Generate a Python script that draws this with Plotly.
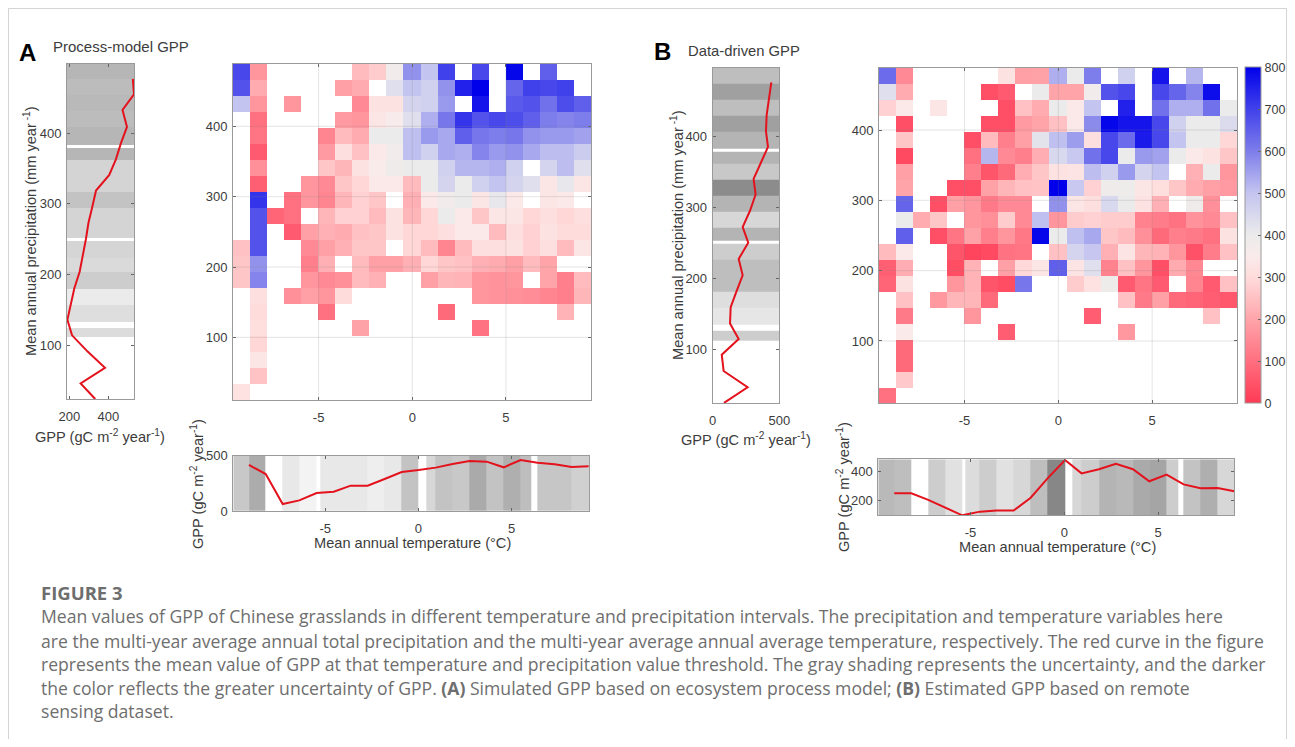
import plotly.graph_objects as go

N = None
OFF = 8            # page margin around the plot
W, H = 1279, 731   # size of the plot area inside the page


def fx(px):
    return (px - OFF) / W


def fy(py):
    return 1 - (py - OFF) / H


# ---------- Panel A heat map (top row first, columns left to right) ----------
gpp_a = [
 [690,170,N,N,N,N,N,240,270,380,570,500,700,N,690,N,790,N,650,N,N],
 [670,210,N,N,N,N,190,210,N,430,500,470,570,750,800,N,640,700,690,700,N],
 [500,170,N,170,N,N,N,150,320,320,460,470,560,N,770,N,660,670,620,680,650],
 [N,100,N,N,N,N,180,170,330,360,430,530,610,720,670,690,680,650,600,590,600],
 [N,110,N,N,N,140,240,210,400,400,505,560,540,650,610,600,610,570,560,560,550],
 [N,60,N,N,N,180,310,250,340,380,505,470,540,530,590,560,570,540,510,510,480],
 [N,160,N,N,N,260,230,320,350,385,400,400,470,520,520,530,470,N,460,510,430],
 [N,70,N,N,170,150,260,290,340,340,240,400,460,400,470,500,460,430,330,410,330],
 [N,720,N,100,170,140,230,280,260,N,220,340,380,400,330,410,340,N,330,340,N],
 [N,670,80,100,N,230,280,280,240,320,230,290,400,340,260,330,330,290,310,290,310],
 [N,670,N,60,190,220,210,250,260,320,290,290,310,340,340,240,310,280,320,300,300],
 [250,670,N,N,150,190,220,260,260,N,290,240,140,240,310,310,320,280,310,240,330],
 [260,570,N,N,130,220,N,240,190,190,220,290,260,250,220,210,190,240,200,N,N],
 [260,590,N,N,170,150,160,240,220,N,N,190,230,225,170,165,170,N,200,130,240],
 [N,310,N,160,190,170,300,N,N,N,N,N,N,N,170,165,160,155,140,130,230],
 [N,300,N,N,N,100,N,N,N,N,N,N,90,N,N,N,N,N,N,225,N],
 [N,305,N,N,N,N,N,195,N,N,N,N,N,N,105,N,N,N,N,N,N],
 [N,290,N,N,N,N,N,N,N,N,N,N,N,N,N,N,N,N,N,N,N],
 [N,330,N,N,N,N,N,N,N,N,N,N,N,N,N,N,N,N,N,N,N],
 [N,255,N,N,N,N,N,N,N,N,N,N,N,N,N,N,N,N,N,N,N],
 [315,N,N,N,N,N,N,N,N,N,N,N,N,N,N,N,N,N,N,N,N],
]

# ---------- Panel B heat map ----------
gpp_b = [
 [630,150,N,N,N,N,N,320,190,195,530,400,600,N,470,N,770,N,520,N,N],
 [430,210,N,N,N,N,40,60,N,400,200,200,380,670,690,N,690,640,590,780,N],
 [280,340,N,330,N,N,N,40,250,210,400,340,500,N,750,N,620,530,530,620,400],
 [N,40,N,N,N,N,40,40,180,200,250,340,580,790,770,770,690,470,400,400,440],
 [N,260,N,N,N,40,240,130,190,420,505,555,310,690,630,760,690,500,400,400,290],
 [N,30,N,N,N,100,520,150,130,215,450,490,620,690,400,560,550,400,340,320,260],
 [N,190,N,N,N,130,50,90,215,260,320,325,510,470,560,460,500,N,220,400,170],
 [N,200,N,N,40,40,195,230,250,255,800,490,280,385,390,330,305,260,210,190,180],
 [N,640,N,40,190,170,120,150,150,N,570,330,310,450,400,320,220,N,385,160,N],
 [N,400,210,260,N,170,160,270,150,505,170,270,280,270,270,135,125,105,165,150,250],
 [N,650,N,40,110,195,130,170,115,790,400,505,540,260,240,160,90,130,120,100,320],
 [240,340,N,N,50,20,30,105,110,N,250,460,495,220,325,230,225,170,45,125,250],
 [70,215,N,N,35,225,N,190,295,330,650,325,430,135,250,170,40,210,145,N,N],
 [80,320,N,N,170,225,50,35,610,N,N,270,315,390,60,110,60,N,140,60,250],
 [N,250,N,175,230,230,90,N,N,N,N,N,N,N,250,120,190,90,80,65,55],
 [N,120,N,N,N,170,N,N,N,N,N,N,65,N,N,N,N,N,N,250,N],
 [N,345,N,N,N,N,N,65,N,N,N,N,N,N,175,N,N,N,N,N,N],
 [N,90,N,N,N,N,N,N,N,N,N,N,N,N,N,N,N,N,N,N,N],
 [N,90,N,N,N,N,N,N,N,N,N,N,N,N,N,N,N,N,N,N,N],
 [N,265,N,N,N,N,N,N,N,N,N,N,N,N,N,N,N,N,N,N,N],
 [100,N,N,N,N,N,N,N,N,N,N,N,N,N,N,N,N,N,N,N,N],
]

# ---------- Marginal curves ----------
precip_curve_a = [477,455,433,409,386,363,341,319,296,273,250,225,204,181,157,136,114,91,68,46,24]
gpp_by_precip_a = [526,532,473,496,465,439,405,337,318,298,285,268,253,226,207,190,214,294,383,258,333]
precip_curve_b = [476,453,430,407,385,362,340,318,295,272,250,227,204,182,159,136,114,92,69,46,24]
gpp_by_precip_b = [440,422,405,400,415,360,307,322,280,225,267,195,225,180,135,130,195,68,82,262,85]

temp_curve_a = [-9.09,-8.19,-7.28,-6.39,-5.46,-4.54,-3.63,-2.72,-1.81,-0.89,0.02,0.93,1.84,2.75,3.67,4.58,5.49,6.40,7.32,8.23,9.14]
gpp_by_temp_a = [416,334,63,96,163,175,229,229,289,352,370,392,425,452,446,395,461,437,422,398,404]
temp_curve_b = [-9.06,-8.15,-7.25,-6.34,-5.44,-4.49,-3.61,-2.70,-1.79,-0.89,0.04,0.92,1.85,2.75,3.66,4.53,5.45,6.36,7.26,8.17,9.06]
gpp_by_temp_b = [250,250,205,155,100,125,132,132,220,352,477,386,414,452,414,332,377,311,284,286,264]

# ---------- Uncertainty shading: band edges and gray level of each band (None = no data) ----------
p_edges_a = [498,476.4,453.8,431,409,383.5,379.7,361.8,339,316.5,294,271,251.4,248,223,203,180,157,133.5,125,112]
p_gray_a = [182,188,185,188,182,N,182,212,212,195,212,212,N,213,218,205,235,222,N,220]
p_edges_b = [496.8,474.7,452.2,429,406.6,383,378.4,362,339,316,293,270.8,253,248,225.7,203,180.5,158,134,126,112]
p_gray_b = [190,160,190,160,180,N,180,200,140,180,215,180,N,205,190,190,222,230,N,205]
t_edges_a = [-9.93,-9.09,-8.21,-7.28,-6.39,-5.46,-5.28,-4.54,-3.63,-2.72,-1.81,-0.89,0.02,0.41,0.93,1.84,2.75,3.67,4.58,5.49,6.08,6.40,7.32,8.23,9.16]
t_gray_a = [200,172,N,232,243,N,232,232,232,238,232,195,N,215,195,200,170,195,175,190,N,198,198,208]
t_edges_b = [-9.91,-9.06,-8.15,-7.25,-6.34,-5.44,-5.26,-4.51,-3.61,-2.70,-1.79,-0.89,0.04,0.43,0.92,1.85,2.75,3.66,4.57,5.45,6.07,6.36,7.26,8.17,9.06]
t_gray_b = [185,190,N,205,225,N,220,205,225,215,190,135,N,215,205,180,185,170,165,205,N,195,175,215]

# ---------- Tick labels and texts ----------
temp_ticks = [-5, 0, 5]
temp_tick_labels = ["-5", "0", "5"]
precip_ticks = [100, 200, 300, 400]
cbar_ticks = [0, 100, 200, 300, 400, 500, 600, 700, 800]
caption_lines = [
 "Mean values of GPP of Chinese grasslands in different temperature and precipitation intervals. The precipitation and temperature variables here",
 "are the multi-year average annual total precipitation and the multi-year average annual average temperature, respectively. The red curve in the figure",
 "represents the mean value of GPP at that temperature and precipitation value threshold. The gray shading represents the uncertainty, and the darker",
 "the color reflects the greater uncertainty of GPP. <b>(A)</b> Simulated GPP based on ecosystem process model; <b>(B)</b> Estimated GPP based on remote",
 "sensing dataset.",
]

# ---------- Style ----------
FRAME = "#9a9a9a"
TXT = "#3c3c3c"
FONT = "Liberation Sans"
RED = "#e3121c"
DIVERGING = [[0, "#ff3a55"], [0.25, "#ffa5aa"], [0.375, "#ffdcdc"], [0.4375, "#faebeb"], [0.5, "#ebebeb"],
             [0.625, "#c4c4f0"], [0.75, "#7d7deb"], [0.875, "#4141eb"], [1, "#0000eb"]]
GRAYS = [[0, "#000000"], [1, "#ffffff"]]

fig = go.Figure()
layout = {"shapes": []}


def add_axes(i, box, xr, yr, xticks, yticks):
    x0, y0, x1, y1 = box
    suffix = "" if i == 1 else str(i)
    common = dict(showline=True, linecolor=FRAME, linewidth=1, mirror="ticks", ticks="inside", ticklen=3,
                  tickcolor="#666666", tickfont=dict(family=FONT, size=13, color=TXT), showgrid=False,
                  zeroline=False, tickmode="array")
    xlabels = temp_tick_labels if xticks == temp_ticks else [str(v) for v in xticks]
    layout["xaxis" + suffix] = dict(common, domain=[fx(x0), fx(x1)], range=xr, tickvals=xticks, ticktext=xlabels,
                                    anchor="y" + suffix, ticklabelstandoff=5)
    layout["yaxis" + suffix] = dict(common, domain=[fy(y1), fy(y0)], range=yr, tickvals=yticks,
                                    anchor="x" + suffix, ticklabelstandoff=2)
    return "x" + suffix, "y" + suffix


def main_heat(i, box, xr, yr, data, show_scale):
    xa, ya = add_axes(i, box, xr, yr, temp_ticks, precip_ticks)
    dx = (xr[1] - xr[0]) / 21
    dy = (yr[1] - yr[0]) / 21
    fig.add_trace(go.Heatmap(
        z=data[::-1], x0=xr[0] + dx / 2, dx=dx, y0=yr[0] + dy / 2, dy=dy, xaxis=xa, yaxis=ya,
        zmin=0, zmax=800, colorscale=DIVERGING, showscale=show_scale, hoverongaps=False,
        colorbar=dict(x=fx(1244.5), xanchor="left", xpad=0, ypad=0, y=fy(403.3), yanchor="bottom",
                      len=335.6 / H, lenmode="fraction", thickness=15.5, thicknessmode="pixels",
                      tickvals=cbar_ticks, ticks="inside", ticklen=3, tickcolor="#666666",
                      tickfont=dict(family=FONT, size=12.5, color=TXT), outlinecolor=FRAME, outlinewidth=1)))
    for v in temp_ticks:
        layout["shapes"].append(dict(type="line", xref=xa, yref=ya + " domain",
                                     x0=v, x1=v, y0=0, y1=1, line=dict(color="rgba(130,130,130,0.22)", width=1),
                                     layer="above"))
    for v in precip_ticks:
        layout["shapes"].append(dict(type="line", yref=ya, xref=xa + " domain",
                                     y0=v, y1=v, x0=0, x1=1, line=dict(color="rgba(130,130,130,0.22)", width=1),
                                     layer="above"))


def side_panel(i, box, xr, yr, xticks, edges, gray, gpp, precip):
    xa, ya = add_axes(i, box, xr, yr, xticks, precip_ticks)
    fig.add_trace(go.Heatmap(z=[[g] for g in gray], x=xr, y=edges, xaxis=xa, yaxis=ya, zmin=0, zmax=255,
                             colorscale=GRAYS, showscale=False, hoverongaps=False))
    fig.add_trace(go.Scatter(x=gpp, y=precip, mode="lines", line=dict(color=RED, width=2), xaxis=xa, yaxis=ya,
                             showlegend=False, cliponaxis=False))


def bottom_panel(i, box, xr, yr, yticks, edges, gray, temps, gpp):
    xa, ya = add_axes(i, box, xr, yr, temp_ticks, yticks)
    fig.add_trace(go.Heatmap(z=[gray], x=edges, y=yr, xaxis=xa, yaxis=ya, zmin=0, zmax=255,
                             colorscale=GRAYS, showscale=False, hoverongaps=False))
    fig.add_trace(go.Scatter(x=temps, y=gpp, mode="lines", line=dict(color=RED, width=2), xaxis=xa, yaxis=ya,
                             showlegend=False, cliponaxis=False))


main_heat(1, (233, 64, 591, 400), [-9.57, 9.54], [11, 488.6], gpp_a, False)
main_heat(2, (879, 67.7, 1237, 403.3), [-9.56, 9.525], [11.4, 488.6], gpp_b, True)
side_panel(3, (67, 64, 134, 399.3), [188, 532], [23.5, 498], [200, 400], p_edges_a, p_gray_a, gpp_by_precip_a, precip_curve_a)
side_panel(4, (712.7, 67.7, 779.3, 403.3), [0, 500], [23.4, 496.8], [0, 500], p_edges_b, p_gray_b, gpp_by_precip_b, precip_curve_b)
bottom_panel(5, (233.3, 455.7, 589, 511), [-9.93, 9.16], [0, 500], [0, 500], t_edges_a, t_gray_a, temp_curve_a, gpp_by_temp_a)
bottom_panel(6, (878.3, 459.3, 1234.3, 515), [-9.91, 9.06], [102, 482], [200, 400], t_edges_b, t_gray_b, temp_curve_b, gpp_by_temp_b)


def note(text, x, y, size=14.6, color=TXT, family=FONT, rot=0, xanchor="center"):
    return dict(text=text, x=fx(x), y=fy(y), xref="paper", yref="paper", showarrow=False, textangle=rot,
                xanchor=xanchor, yanchor="middle", font=dict(family=family, size=size, color=color))


GPP_UNITS = "GPP (gC m<sup>-2</sup> year<sup>-1</sup>)"
PRECIP = "Mean annual precipitation (mm year<sup> -1</sup>)"
TEMP = "Mean annual temperature (°C)"
CAP = "#6e6e6e"
anns = [
    note("<b>A</b>", 17, 52, 24, "#000000", xanchor="left"),
    note("<b>B</b>", 652, 51, 24, "#000000", xanchor="left"),
    note("Process-model GPP", 51, 47, 15, xanchor="left"),
    note("Data-driven GPP", 686, 51, 14.8, xanchor="left"),
    note(PRECIP, 30, 231, rot=-90),
    note(PRECIP, 677, 235, rot=-90),
    note(GPP_UNITS, 100, 436),
    note(GPP_UNITS, 746, 439),
    note(GPP_UNITS, 197, 484, rot=-90),
    note(GPP_UNITS, 843, 487, rot=-90),
    note(TEMP, 412, 543),
    note(TEMP, 1057, 547),
    note("<b>FIGURE 3</b>", 39, 592, 18.5, CAP, "Open Sans", xanchor="left"),
]
for y, line in zip([616, 640.5, 664, 687.5, 711], caption_lines):
    anns.append(note(line, 39, y, 17.6, CAP, "Open Sans", xanchor="left"))

layout["shapes"].append(dict(type="rect", xref="paper", yref="paper", x0=fx(8.5), x1=fx(1286.5),
                             y0=-0.05, y1=fy(8.5), line=dict(color="#d4d4d4", width=1), layer="below"))
fig.update_layout(margin=dict(l=0, r=0, t=0, b=0, autoexpand=False), paper_bgcolor="white", plot_bgcolor="white",
                  showlegend=False, annotations=anns, **layout)
fig.write_html("out.html", config={"displayModeBar": False})
